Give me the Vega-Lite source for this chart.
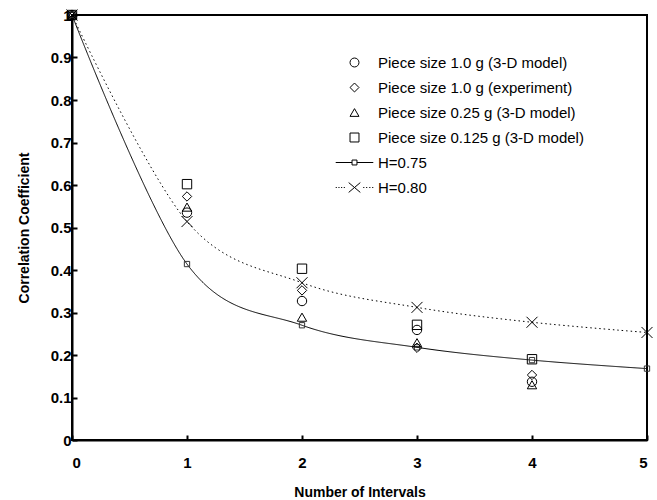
{
  "$schema": "https://vega.github.io/schema/vega-lite/v6.json",
  "autosize": {"type": "none"},
  "padding": {"left": 72, "top": 15, "right": 10, "bottom": 60},
  "width": 575,
  "height": 425,
  "background": "white",
  "config": {
    "font": "Liberation Sans",
    "view": {"stroke": "black", "strokeWidth": 2},
    "axis": {
      "grid": false,
      "domainColor": "black",
      "domainWidth": 2,
      "tickColor": "black",
      "tickWidth": 2,
      "tickSize": -5,
      "labelFont": "Liberation Sans",
      "labelFontWeight": "bold",
      "labelFontSize": 15,
      "labelColor": "black",
      "titleFont": "Liberation Sans",
      "titleFontWeight": "bold",
      "titleFontSize": 14,
      "titleColor": "black"
    }
  },
  "data": {
    "values": [
      {"series": "Piece size 1.0 g (3-D model)", "x": 0, "y": 1},
      {"series": "Piece size 1.0 g (3-D model)", "x": 1, "y": 0.535},
      {"series": "Piece size 1.0 g (3-D model)", "x": 2, "y": 0.327},
      {"series": "Piece size 1.0 g (3-D model)", "x": 3, "y": 0.259},
      {"series": "Piece size 1.0 g (3-D model)", "x": 4, "y": 0.137},
      {"series": "Piece size 1.0 g (experiment)", "x": 0, "y": 1},
      {"series": "Piece size 1.0 g (experiment)", "x": 1, "y": 0.573},
      {"series": "Piece size 1.0 g (experiment)", "x": 2, "y": 0.352},
      {"series": "Piece size 1.0 g (experiment)", "x": 3, "y": 0.217},
      {"series": "Piece size 1.0 g (experiment)", "x": 4, "y": 0.153},
      {"series": "Piece size 0.25 g (3-D model)", "x": 0, "y": 1},
      {"series": "Piece size 0.25 g (3-D model)", "x": 1, "y": 0.548},
      {"series": "Piece size 0.25 g (3-D model)", "x": 2, "y": 0.289},
      {"series": "Piece size 0.25 g (3-D model)", "x": 3, "y": 0.229},
      {"series": "Piece size 0.25 g (3-D model)", "x": 4, "y": 0.130},
      {"series": "Piece size 0.125 g (3-D model)", "x": 0, "y": 1},
      {"series": "Piece size 0.125 g (3-D model)", "x": 1, "y": 0.602},
      {"series": "Piece size 0.125 g (3-D model)", "x": 2, "y": 0.403},
      {"series": "Piece size 0.125 g (3-D model)", "x": 3, "y": 0.271},
      {"series": "Piece size 0.125 g (3-D model)", "x": 4, "y": 0.190},
      {"series": "H=0.75", "x": 0, "y": 1},
      {"series": "H=0.75", "x": 1, "y": 0.414},
      {"series": "H=0.75", "x": 2, "y": 0.270},
      {"series": "H=0.75", "x": 3, "y": 0.218},
      {"series": "H=0.75", "x": 4, "y": 0.188},
      {"series": "H=0.75", "x": 5, "y": 0.168},
      {"series": "H=0.80", "x": 0, "y": 1},
      {"series": "H=0.80", "x": 1, "y": 0.514},
      {"series": "H=0.80", "x": 2, "y": 0.370},
      {"series": "H=0.80", "x": 3, "y": 0.312},
      {"series": "H=0.80", "x": 4, "y": 0.277},
      {"series": "H=0.80", "x": 5, "y": 0.253}
    ]
  },
  "encoding": {
    "x": {
      "field": "x", "type": "quantitative",
      "scale": {"domain": [0, 5], "nice": false, "zero": false},
      "axis": {"title": "Number of Intervals", "values": [0, 1, 2, 3, 4, 5], "format": "d", "labelPadding": 20, "titlePadding": 15}
    },
    "y": {
      "field": "y", "type": "quantitative",
      "scale": {"domain": [0, 1], "nice": false},
      "axis": {"title": "Correlation Coefficient", "values": [0, 0.1, 0.2, 0.3, 0.4, 0.5, 0.6, 0.7, 0.8, 0.9, 1], "format": "~g", "labelPadding": 6, "titlePadding": 19}
    }
  },
  "layer": [
    {
      "transform": [{"filter": "indexof(datum.series, 'H=') === 0"}],
      "mark": {"type": "line", "interpolate": "cardinal", "tension": 0, "color": "black", "strokeWidth": 1},
      "encoding": {
        "detail": {"field": "series", "type": "nominal"},
        "strokeDash": {
          "field": "series", "type": "nominal",
          "scale": {"domain": ["H=0.75", "H=0.80"], "range": [[1, 0], [1.5, 3]]},
          "legend": null
        }
      }
    },
    {
      "transform": [{"filter": "datum.series === 'H=0.75'"}],
      "mark": {"type": "point", "filled": false, "color": "#333333", "strokeWidth": 1, "opacity": 1, "shape": "square", "size": 28}
    },
    {
      "transform": [{"filter": "datum.series === 'H=0.80'"}],
      "mark": {"type": "point", "filled": false, "color": "black", "strokeWidth": 1, "opacity": 1, "shape": "M-1,-1L1,1M-1,1L1,-1", "size": 121}
    },
    {
      "transform": [{"filter": "indexof(datum.series, 'H=') !== 0"}],
      "mark": {"type": "point", "filled": false, "color": "black", "strokeWidth": 1, "opacity": 1, "size": 88},
      "encoding": {
        "shape": {
          "field": "series", "type": "nominal",
          "scale": {
            "domain": ["Piece size 1.0 g (3-D model)", "Piece size 1.0 g (experiment)", "Piece size 0.25 g (3-D model)", "Piece size 0.125 g (3-D model)", "H=0.75", "H=0.80"],
            "range": [
              "circle", "diamond", "triangle-up", "square",
              "M-4.2,0H-0.55M0.55,0H4.2M-0.55,-0.55H0.55V0.55H-0.55Z",
              "M-4.2,0h0.25M-3.6,0h0.25M-3.0,0h0.25M-2.4,0h0.25M1.95,0h0.25M2.6,0h0.25M3.3,0h0.25M3.95,0h0.25M-1.3,-1.1L1.3,1.1M-1.3,1.1L1.3,-1.1"
            ]
          },
          "legend": {
            "title": null,
            "orient": "none",
            "legendX": 275,
            "legendY": 40,
            "labelFont": "Liberation Sans",
            "labelFontSize": 15,
            "labelColor": "black",
            "labelOffset": 16,
            "rowPadding": 9,
            "symbolSize": 80,
            "symbolStrokeColor": "black",
            "symbolStrokeWidth": 1,
            "symbolFillColor": "transparent",
            "labelLimit": 400
          }
        }
      }
    }
  ]
}
